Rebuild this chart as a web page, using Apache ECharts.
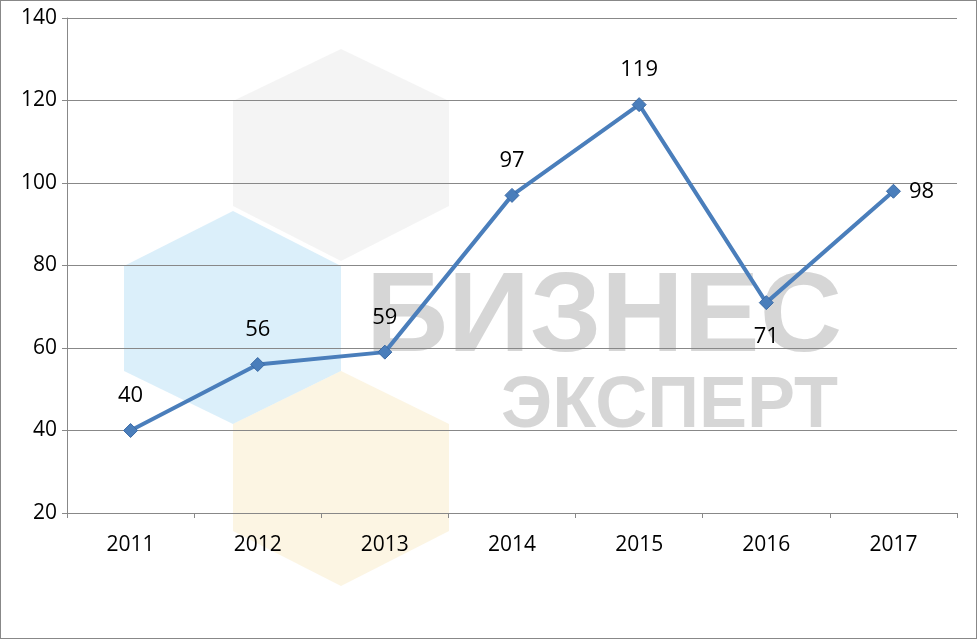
<!DOCTYPE html>
<html>
<head>
<meta charset="utf-8">
<script src="https://cdn.jsdelivr.net/npm/echarts@6/dist/echarts.min.js"></script>
<style>
html,body{margin:0;padding:0;background:#fff;}
#main{width:975px;height:637px;border:1px solid #888;}
</style>
</head>
<body>
<div id="main"></div>
<script>
var years = ['2011', '2012', '2013', '2014', '2015', '2016', '2017'];
var values = [40, 56, 59, 97, 119, 71, 98];
var labelPos = ['top', 'top', 'top', 'top', 'top', 'bottom', 'right'];

var chartDom = document.getElementById('main');
var myChart = echarts.init(chartDom);

function poly(points, color) {
    return { type: 'polygon', z: -10, shape: { points: points }, style: { fill: color } };
}

var option = {
    animation: false,
    grid: { left: 66, right: 19, top: 17, bottom: 125 },
    graphic: [
        poly([[232,100],[340,48],[448,100],[448,205],[340,260],[232,205]], 'rgba(230,230,230,0.45)'),
        poly([[123,265],[232,210],[340,265],[340,370],[232,423],[123,370]], 'rgba(190,225,245,0.55)'),
        poly([[232,423],[340,370],[448,423],[448,530],[340,585],[232,530]], 'rgba(250,235,200,0.5)'),
        { type: 'text', z: -5, left: 365, top: 262, style: { text: 'БИЗНЕС', font: 'bold 114px "Liberation Sans"', fill: 'rgba(200,200,200,0.75)' } },
        { type: 'text', z: -5, left: 500, top: 370, style: { text: 'ЭКСПЕРТ', font: 'bold 72px "Liberation Sans"', fill: 'rgba(200,200,200,0.75)' } }
    ],
    xAxis: {
        type: 'category',
        data: years,
        axisLine: { lineStyle: { color: '#888' } },
        axisTick: { show: true, interval: 0, lineStyle: { color: '#888' } },
        axisLabel: { color: '#000', fontSize: 21, fontFamily: 'Open Sans', margin: 22 }
    },
    yAxis: {
        type: 'value',
        min: 20,
        max: 140,
        interval: 20,
        axisLine: { show: true, lineStyle: { color: '#888' } },
        axisTick: { show: true, lineStyle: { color: '#888' } },
        splitLine: { lineStyle: { color: '#888' } },
        axisLabel: { color: '#000', fontSize: 21, fontFamily: 'Open Sans', margin: 10 }
    },
    series: [{
        type: 'line',
        data: values.map(function (v, i) {
            return { value: v, label: { position: labelPos[i], distance: labelPos[i] === 'right' ? 8 : 16 } };
        }),
        symbol: 'diamond',
        symbolSize: 14,
        lineStyle: { color: '#4a7ebb', width: 4 },
        itemStyle: { color: '#4a7ebb', borderColor: '#3a6aa5', borderWidth: 1 },
        label: { show: true, color: '#000', fontSize: 22, fontFamily: 'Open Sans' }
    }]
};
myChart.setOption(option);
</script>
</body>
</html>
